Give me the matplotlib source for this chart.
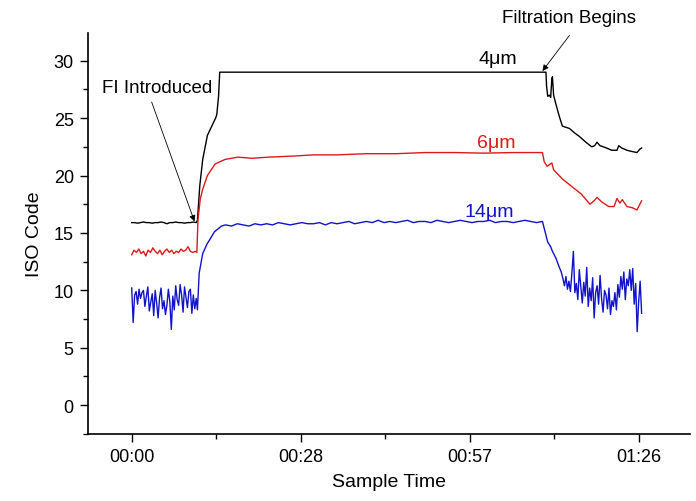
import numpy as np
import matplotlib
matplotlib.use("Agg")
import matplotlib.pyplot as plt

plt.rcParams['font.family'] = ['Liberation Sans', 'DejaVu Sans']

# time in minutes, ISO code values
# 4um (black)
t_4 = [0, 0.5, 1, 1.5, 2, 2.5, 3, 3.5, 4, 4.5, 5, 5.5, 6, 6.5, 7, 7.5, 8, 8.5, 9, 9.5, 10, 10.5,
       11.0, 11.2, 11.6, 12.1, 12.9, 14.3, 14.5, 14.8, 15.0,
       30, 45, 60, 70.5,
       70.6, 70.7, 70.9, 71.2, 71.4, 71.6, 71.7, 71.9, 72.3, 72.9, 73.4, 74.0, 74.6, 75.5, 76.3,
       77.4, 78.4, 78.9, 79.3, 79.8, 80.9, 81.8, 82.7, 83.0, 83.5, 84.4, 85.2, 86.1, 86.6, 86.9]
iso_4 = [15.9, 15.9, 15.85, 15.9, 15.95, 15.9, 15.9, 15.85, 15.9, 15.9, 15.95, 15.9, 15.8, 15.9,
         15.9, 15.95, 15.9, 15.9, 15.85, 15.9, 15.9, 15.95,
         15.9, 16.1, 19.1, 21.4, 23.5, 25.0, 25.3, 26.9, 29.0,
         29.0, 29.0, 29.0, 29.0,
         29.0, 27.8, 26.9, 27.0, 26.8, 28.4, 28.6, 27.0, 26.2, 25.1, 24.3, 24.2, 24.1, 23.7, 23.4,
         22.9, 22.5, 22.6, 22.9, 22.6, 22.4, 22.2, 22.2, 22.6, 22.4, 22.2, 22.1, 22.0, 22.3, 22.4]

# 6um (red)
red_pre = [13.1, 13.5, 13.3, 13.6, 13.2, 13.4, 13.0, 13.5, 13.3, 13.7, 13.4, 13.2, 13.5, 13.1,
           13.4, 13.6, 13.3, 13.5, 13.2, 13.4, 13.3, 13.6, 13.4, 13.5, 13.8, 13.4, 13.3, 13.4]
t_6_rest = [11.1, 11.3, 11.7, 12.1, 12.9, 14.2, 15.9, 18.1, 20.5, 23.2, 27.8, 31, 35, 40, 45, 50,
            55, 60, 65, 70.0, 70.3, 70.8, 71.6, 71.9, 73.4, 75.1, 76.6, 77.6, 78.1, 78.8, 79.3,
            80.1, 81.3, 82.2, 82.7, 83.2, 83.6, 84.4, 85.3, 86.1, 86.6, 86.9]
iso_6_rest = [13.3, 16.2, 18.0, 18.8, 20.0, 21.0, 21.4, 21.6, 21.5, 21.6, 21.7, 21.8, 21.8, 21.9,
              21.9, 22.0, 22.0, 21.95, 22.0, 22.0, 21.2, 20.8, 21.1, 20.5, 19.7, 19.0, 18.4, 17.8,
              17.5, 17.8, 18.1, 17.7, 17.3, 17.3, 18.0, 17.6, 17.9, 17.3, 17.2, 17.0, 17.5, 17.8]

# 14um (blue)
blue_pre = [10.2, 7.2, 9.6, 9.9, 8.8, 10.1, 9.3, 9.8, 10.0, 8.6, 9.5, 10.3, 8.2, 9.0, 9.7, 7.8,
            10.0, 8.9, 7.6, 9.4, 10.2, 8.4, 9.1, 7.9, 8.7, 10.1, 9.0, 6.6, 9.5, 8.3, 10.4, 9.2,
            8.7, 10.5, 9.6, 8.1, 10.3, 9.4, 8.5, 9.9, 10.1, 8.0, 9.6, 8.4, 9.3]
t_14_rise = [11.2, 11.5, 11.9, 12.1, 12.8, 14.1, 15.3]
iso_14_rise = [8.3, 11.5, 12.6, 13.2, 14.0, 15.1, 15.6]
blue_plateau = [15.7, 15.6, 15.8, 15.7, 15.6, 15.8, 15.7, 15.8, 15.7, 15.9, 15.8, 15.7, 15.8, 15.9,
                15.8, 15.8, 15.9, 15.7, 15.9, 15.8, 15.9, 16.0, 15.8, 15.9, 16.0, 15.9, 16.1, 15.9,
                16.0, 15.9, 16.0, 16.1, 15.9, 16.0, 16.0, 15.9, 16.1, 16.0, 15.9, 16.0, 16.1, 16.0,
                15.9, 16.0, 16.0, 16.1, 15.9, 16.0, 16.0, 15.9, 16.0, 16.1, 16.0, 15.9, 16.0]
t_14_drop = [70.6, 70.9, 71.4, 71.7, 72.3, 72.8, 73.2]
iso_14_drop = [14.8, 14.2, 13.8, 13.4, 12.8, 12.1, 11.6]
blue_post = [11.0, 10.4, 11.2, 10.1, 10.8, 9.9, 11.5, 13.4, 9.8, 10.6, 9.2, 11.8, 10.3, 8.9, 10.7,
             9.5, 12.0, 8.6, 10.2, 9.1, 11.1, 7.6, 9.8, 10.4, 8.8, 11.3, 9.3, 8.1, 10.0, 9.6, 8.4,
             10.2, 7.9, 9.1, 8.6, 9.8, 8.3, 10.5, 9.4, 11.2, 10.1, 11.6, 9.2, 11.0, 10.4, 11.8,
             10.0, 11.9, 8.8, 10.6, 6.4, 9.0, 10.8, 8.0]

# sample times of the regularly sampled segments
t_6 = list(np.linspace(0, 10.8, len(red_pre))) + t_6_rest
iso_6 = red_pre + iso_6_rest
t_14 = (list(np.linspace(0, 11.0, len(blue_pre))) + t_14_rise
        + list(np.linspace(16, 70, len(blue_plateau))) + t_14_drop
        + list(np.linspace(73.5, 86.9, len(blue_post))))
iso_14 = blue_pre + iso_14_rise + blue_plateau + iso_14_drop + blue_post

tick_pos = [0, 28.8, 57.6, 86.4]
tick_labels = ['00:00', '00:28', '00:57', '01:26']

fig = plt.figure(figsize=(6.96, 5.02), dpi=100)
ax = fig.add_axes([0.126, 0.133, 0.865, 0.799])

ax.plot(t_4, iso_4, color='black', lw=1.0)
ax.plot(t_6, iso_6, color='#dd1a1a', lw=1.0)
ax.plot(t_14, iso_14, color='#1212c8', lw=1.0)

ax.set_xticks(tick_pos)
ax.set_xticklabels(tick_labels)
ax.set_xticks([14.4, 43.2, 72.0], minor=True)
ax.set_yticks([0, 5, 10, 15, 20, 25, 30])
ax.set_yticks(np.arange(-2.5, 32.5, 2.5), minor=True)
ax.set_xlim(-7.5, 95.1)
ax.set_ylim(-2.53, 32.4)
for s in ['top', 'right']:
    ax.spines[s].set_visible(False)
for s in ['left', 'bottom']:
    ax.spines[s].set_linewidth(1.2)
ax.tick_params(which='major', direction='out', length=6, width=1.0, labelsize=13, pad=4)
ax.tick_params(which='minor', direction='out', length=3.5, width=1.0)
ax.set_xlabel('Sample Time', fontsize=14, labelpad=6)
ax.set_ylabel('ISO Code', fontsize=14, labelpad=8)

ax.text(62.4, 30.2, '4μm', color='black', fontsize=14, ha='center', va='center')
ax.text(62.2, 22.9, '6μm', color='#dd1a1a', fontsize=14, ha='center', va='center')
ax.text(61.0, 16.9, '14μm', color='#1212c8', fontsize=14, ha='center', va='center')

arrow = dict(arrowstyle='-|>', color='black', lw=0.6, mutation_scale=9, shrinkA=0, shrinkB=0)
ax.text(4.4, 27.7, 'FI Introduced', fontsize=13.5, ha='center', va='center')
ax.annotate('', xy=(10.7, 16.0), xytext=(3.4, 26.4), arrowprops=arrow)
ax.text(74.6, 33.8, 'Filtration Begins', fontsize=13.5, ha='center', va='center', clip_on=False)
ax.annotate('', xy=(70.0, 29.1), xytext=(74.6, 32.2), arrowprops=arrow, annotation_clip=False)

fig.savefig('out.png', dpi=100)
